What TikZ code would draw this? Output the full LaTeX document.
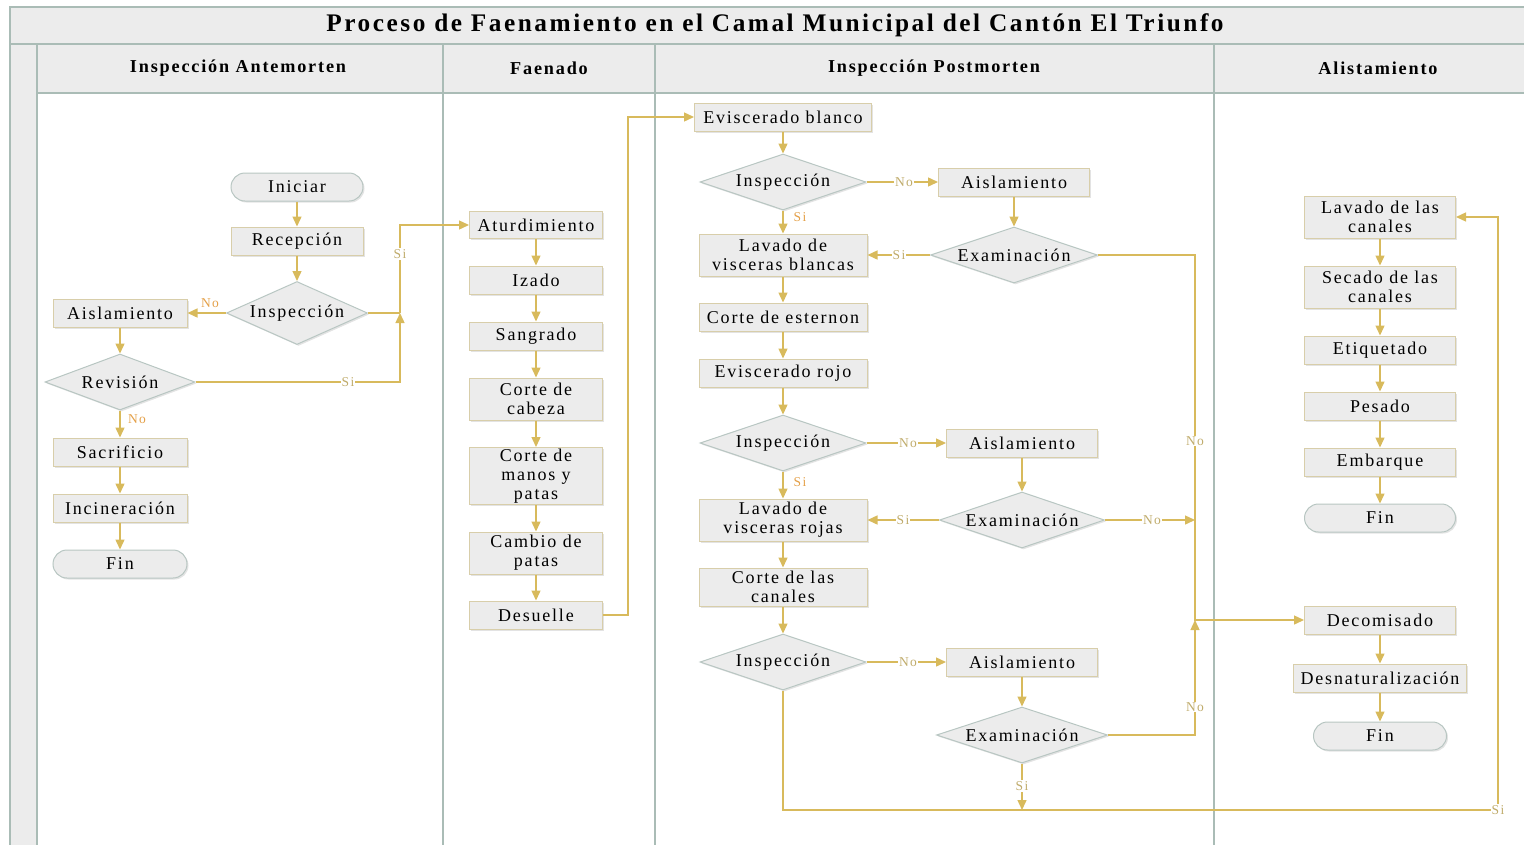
\documentclass[tikz,border=0pt]{standalone}
\usepackage{fontspec}
\setmainfont{Liberation Serif}[LetterSpace=10]
\usetikzlibrary{shapes.geometric,arrows.meta,shadows}

% colours
\definecolor{linec}{RGB}{216,186,92}
\definecolor{poolc}{RGB}{170,188,182}
\definecolor{bandc}{RGB}{236,236,236}
\definecolor{boxfc}{RGB}{236,236,236}
\definecolor{boxdc}{RGB}{216,206,170}
\definecolor{shpdc}{RGB}{184,198,194}
\definecolor{labtc}{RGB}{192,172,108}
\definecolor{labor}{RGB}{228,160,72}

% fonts
\newcommand\ndfont{\fontsize{18}{19}\selectfont}
\newcommand\lbfont{\fontsize{13.5}{14}\selectfont}
\newcommand\hdfont{\fontsize{18.2}{19}\selectfont\bfseries}
\newcommand\tlfont{\fontsize{25.3}{27}\selectfont\bfseries}
\newcommand\dtxt[1]{\makebox[0pt]{#1}}

\tikzset{
  shade box/.style={drop shadow={shadow xshift=1.5pt, shadow yshift=-1.5pt, opacity=0.22}},
  proc/.style={rectangle, draw=boxdc, line width=1pt, fill=boxfc, inner sep=1pt,
               align=center, font=\ndfont, shade box},
  term/.style={proc, draw=shpdc, rounded corners=14pt},
  dec/.style={diamond, draw=shpdc, line width=1pt, fill=boxfc, inner sep=0pt,
              font=\ndfont, shade box},
  ln/.style={draw=linec, line width=1.4pt},
  arr/.style={ln, -{Triangle[length=10pt,width=9pt]}},
  lab/.style={font=\lbfont, text=labtc, fill=white, inner sep=1pt},
  labo/.style={font=\lbfont, text=labor, inner sep=1pt},
  lanehead/.style={font=\hdfont},
}

\begin{document}
\begin{tikzpicture}[x=1pt,y=-1pt]
\useasboundingbox (0,0) rectangle (1524,844);

% ---- pool and lanes ----
\begin{scope}
\clip (0,0) rectangle (1524,844);
\fill[bandc] (10,7) rectangle (1540,44);
\fill[bandc] (37,44) rectangle (1540,93);
\fill[bandc] (10,44) rectangle (37,860);
\draw[poolc, line width=1.3pt] (10,860) -- (10,7) -- (1540,7);
\draw[poolc, line width=1.3pt] (10,44) -- (1540,44);
\draw[poolc, line width=1.3pt] (37,93) -- (1540,93);
\draw[poolc, line width=1.3pt] (37,44) -- (37,860);
\draw[poolc, line width=1.3pt] (443,44) -- (443,860);
\draw[poolc, line width=1.3pt] (655,44) -- (655,860);
\draw[poolc, line width=1.3pt] (1214,44) -- (1214,860);
\end{scope}

\node[font=\tlfont] (title) at (775,25) {Proceso de Faenamiento en el Camal Municipal del Cantón El Triunfo};
\node[lanehead] (h1) at (238,68) {Inspección Antemorten};
\node[lanehead] (h2) at (549,68) {Faenado};
\node[lanehead] (h3) at (934,68) {Inspección Postmorten};
\node[lanehead] (h4) at (1378,68) {Alistamiento};

% ---- Inspección Antemorten ----
\node[term, minimum width=132pt, minimum height=28pt] (ini) at (297,187) {Iniciar};
\node[proc, minimum width=132pt, minimum height=28pt] (rec) at (297,241) {Recepción};
\node[dec, minimum width=141pt, minimum height=63pt] (ins0) at (297,313) {\dtxt{Inspección}};
\node[proc, minimum width=134pt, minimum height=28pt] (ais0) at (120,313) {Aislamiento};
\node[dec, minimum width=150pt, minimum height=56pt] (rev) at (120,382) {\dtxt{Revisión}};
\node[proc, minimum width=134pt, minimum height=28pt] (sac) at (120,452) {Sacrificio};
\node[proc, minimum width=134pt, minimum height=28pt] (inc) at (120,508) {Incineración};
\node[term, minimum width=134pt, minimum height=28pt] (fin0) at (120,564) {Fin};

% ---- Faenado ----
\node[proc, minimum width=133pt, minimum height=27pt] (atu) at (536,225) {Aturdimiento};
\node[proc, minimum width=133pt, minimum height=28pt] (iza) at (536,280) {Izado};
\node[proc, minimum width=133pt, minimum height=28pt] (san) at (536,336) {Sangrado};
\node[proc, minimum width=133pt, minimum height=42pt] (cca) at (536,399) {Corte de\\cabeza};
\node[proc, minimum width=133pt, minimum height=57pt] (cmp) at (536,476) {Corte de\\manos y\\patas};
\node[proc, minimum width=133pt, minimum height=42pt] (cpa) at (536,553) {Cambio de\\patas};
\node[proc, minimum width=133pt, minimum height=28pt] (des) at (536,615) {Desuelle};

% ---- Inspección Postmorten ----
\node[proc, minimum width=177pt, minimum height=28pt] (evb) at (783,117) {Eviscerado blanco};
\node[dec, minimum width=166pt, minimum height=56pt] (ins1) at (783,182) {\dtxt{Inspección}};
\node[proc, minimum width=151pt, minimum height=28pt] (ais1) at (1014,182) {Aislamiento};
\node[dec, minimum width=167pt, minimum height=56pt] (ex1) at (1014,255) {\dtxt{Examinación}};
\node[proc, minimum width=168pt, minimum height=42pt] (lvb) at (783,255) {Lavado de\\visceras blancas};
\node[proc, minimum width=168pt, minimum height=28pt] (ces) at (783,317) {Corte de esternon};
\node[proc, minimum width=168pt, minimum height=28pt] (evr) at (783,373) {Eviscerado rojo};
\node[dec, minimum width=166pt, minimum height=56pt] (ins2) at (783,443) {\dtxt{Inspección}};
\node[proc, minimum width=151pt, minimum height=28pt] (ais2) at (1022,443) {Aislamiento};
\node[dec, minimum width=165pt, minimum height=56pt] (ex2) at (1022,520) {\dtxt{Examinación}};
\node[proc, minimum width=168pt, minimum height=42pt] (lvr) at (783,520) {Lavado de\\visceras rojas};
\node[proc, minimum width=168pt, minimum height=38pt] (ccn) at (783,587) {Corte de las\\canales};
\node[dec, minimum width=166pt, minimum height=56pt] (ins3) at (783,662) {\dtxt{Inspección}};
\node[proc, minimum width=151pt, minimum height=28pt] (ais3) at (1022,662) {Aislamiento};
\node[dec, minimum width=171pt, minimum height=56pt] (ex3) at (1022,735) {\dtxt{Examinación}};

% ---- Alistamiento ----
\node[proc, minimum width=151pt, minimum height=42pt] (lvc) at (1380,217) {Lavado de las\\canales};
\node[proc, minimum width=151pt, minimum height=42pt] (sec) at (1380,287) {Secado de las\\canales};
\node[proc, minimum width=151pt, minimum height=28pt] (eti) at (1380,350) {Etiquetado};
\node[proc, minimum width=151pt, minimum height=28pt] (pes) at (1380,406) {Pesado};
\node[proc, minimum width=151pt, minimum height=28pt] (emb) at (1380,462) {Embarque};
\node[term, minimum width=151pt, minimum height=28pt] (fin1) at (1380,518) {Fin};
\node[proc, minimum width=151pt, minimum height=28pt] (deco) at (1380,620) {Decomisado};
\node[proc, minimum width=173pt, minimum height=28pt] (desn) at (1380,678) {Desnaturalización};
\node[term, minimum width=133pt, minimum height=28pt] (fin2) at (1380,736) {Fin};

% ---- junction points ----
\coordinate (j0) at (400,313);
\coordinate (j1) at (628,615);
\coordinate (jd) at (1195,620);
\coordinate (jb) at (1022,810);
\coordinate (jc) at (1498,810);

% ---- connectors ----
\draw[arr] (ini) -- (rec);
\draw[arr] (rec) -- (ins0);
\draw[arr] (ins0) -- (ais0);
\draw[arr] (ais0) -- (rev);
\draw[arr] (rev) -- (sac);
\draw[arr] (sac) -- (inc);
\draw[arr] (inc) -- (fin0);
\draw[ln] (ins0.east) -- (j0);
\draw[arr] (rev.east) -| (j0);
\draw[arr] (j0) |- (atu.west);

\draw[arr] (atu) -- (iza);
\draw[arr] (iza) -- (san);
\draw[arr] (san) -- (cca);
\draw[arr] (cca) -- (cmp);
\draw[arr] (cmp) -- (cpa);
\draw[arr] (cpa) -- (des);
\draw[arr] (des.east) -- (j1) |- (evb.west);

\draw[arr] (evb) -- (ins1);
\draw[arr] (ins1) -- (ais1);
\draw[arr] (ins1) -- (lvb);
\draw[arr] (ais1) -- (ex1);
\draw[arr] (ex1) -- (lvb);
\draw[arr] (lvb) -- (ces);
\draw[arr] (ces) -- (evr);
\draw[arr] (evr) -- (ins2);
\draw[arr] (ins2) -- (ais2);
\draw[arr] (ins2) -- (lvr);
\draw[arr] (ais2) -- (ex2);
\draw[arr] (ex2) -- (lvr);
\draw[arr] (lvr) -- (ccn);
\draw[arr] (ccn) -- (ins3);
\draw[arr] (ins3) -- (ais3);
\draw[arr] (ais3) -- (ex3);

\draw[arr] (ex1.east) -| (jd) -- (deco.west);
\draw[arr] (ex2.east) -- (ex2.east -| jd);
\draw[arr] (ex3.east) -| (jd);
\draw[arr] (ex3.south) -- (jb);
\draw[arr] (ins3.south) |- (jc) |- (lvc.east);

\draw[arr] (lvc) -- (sec);
\draw[arr] (sec) -- (eti);
\draw[arr] (eti) -- (pes);
\draw[arr] (pes) -- (emb);
\draw[arr] (emb) -- (fin1);
\draw[arr] (deco) -- (desn);
\draw[arr] (desn) -- (fin2);

% ---- branch labels ----
\node[labo] (l1) at (210,303) {No};
\node[lab] (l2) at (400,254) {Si};
\node[lab] (l3) at (348,382) {Si};
\node[labo] (l4) at (137,419) {No};
\node[lab] (l5) at (904,182) {No};
\node[labo] (l6) at (800,217) {Si};
\node[lab] (l7) at (899,255) {Si};
\node[lab] (l8) at (1195,441) {No};
\node[lab] (l9) at (908,443) {No};
\node[labo] (l10) at (800,482) {Si};
\node[lab] (l11) at (903,520) {Si};
\node[lab] (l12) at (1152,520) {No};
\node[lab] (l13) at (908,662) {No};
\node[lab] (l14) at (1195,707) {No};
\node[lab] (l15) at (1022,786) {Si};
\node[lab] (l16) at (1498,810) {Si};
\end{tikzpicture}
\end{document}
